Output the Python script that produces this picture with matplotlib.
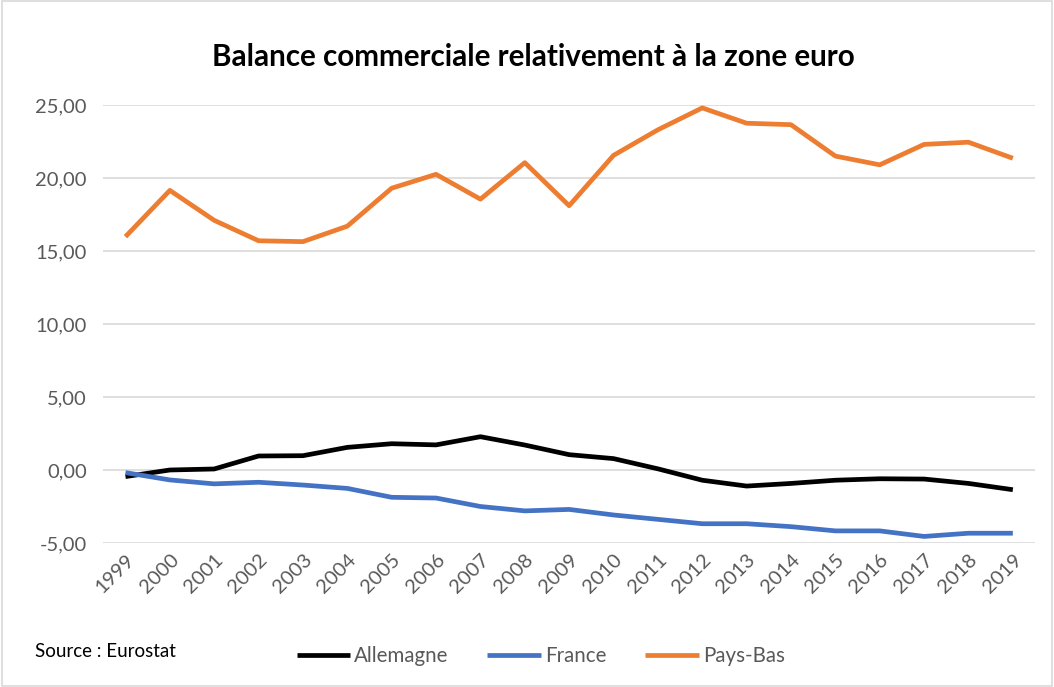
import matplotlib.pyplot as plt
from matplotlib.patches import Rectangle
from matplotlib.ticker import FuncFormatter

years = [str(y) for y in range(1999, 2020)]
allemagne = [-0.45, 0.0, 0.07, 0.96, 0.98, 1.55, 1.8, 1.72, 2.28, 1.71, 1.05,
             0.78, 0.08, -0.7, -1.1, -0.92, -0.7, -0.6, -0.62, -0.92, -1.35]
france = [-0.18, -0.68, -0.95, -0.84, -1.03, -1.26, -1.87, -1.92, -2.5, -2.8, -2.7,
          -3.08, -3.38, -3.68, -3.68, -3.88, -4.17, -4.17, -4.55, -4.33, -4.33]
pays_bas = [15.98, 19.15, 17.1, 15.7, 15.64, 16.7, 19.3, 20.25, 18.55, 21.05, 18.1,
            21.55, 23.3, 24.8, 23.75, 23.65, 21.5, 20.9, 22.3, 22.45, 21.35]

plt.rcParams['font.family'] = ['Lato', 'DejaVu Sans']
grey = '#595959'

fig = plt.figure(figsize=(10.54, 6.87), dpi=100)
ax = fig.add_axes([0.098, 0.2096, 0.884, 0.6376])

x = range(len(years))
ax.plot(x, allemagne, color='black', lw=3.4, label='Allemagne', solid_capstyle='butt')
ax.plot(x, france, color='#4472c4', lw=3.4, label='France', solid_capstyle='butt')
ax.plot(x, pays_bas, color='#ed7d31', lw=3.4, label='Pays-Bas', solid_capstyle='butt')

ax.set_xlim(-0.5, len(years) - 0.5)
ax.set_ylim(-5, 25)
ax.set_yticks(range(-5, 26, 5))
ax.yaxis.set_major_formatter(FuncFormatter(lambda v, p: f"{v:.2f}".replace('.', ',')))
ax.set_xticks(list(x))
ax.set_xticklabels(years, rotation=45, ha='right', rotation_mode='anchor')
ax.tick_params(axis='both', length=0, labelsize=14.5, colors=grey)
ax.tick_params(axis='x', pad=6)
ax.tick_params(axis='y', pad=12)
ax.grid(axis='y', color='#d9d9d9', lw=1.2)
ax.set_axisbelow(True)
for s in ax.spines.values():
    s.set_visible(False)

fig.text(0.506, 0.917, 'Balance commerciale relativement à la zone euro',
         ha='center', va='center', fontsize=21.3, fontweight='bold')
fig.text(0.033, 0.052, 'Source : Eurostat', ha='left', va='center', fontsize=13.5)

fig.legend(loc='center', bbox_to_anchor=(0.513, 0.045), ncol=3, frameon=False,
           fontsize=14.8, handlelength=2.6, columnspacing=1.9, handletextpad=0.2,
           labelcolor=grey)

fig.patches.append(Rectangle((0.002, 0.002), 0.996, 0.996, transform=fig.transFigure,
                             fill=False, edgecolor='#d9d9d9', lw=1.2))

fig.savefig('out.png', dpi=100)
